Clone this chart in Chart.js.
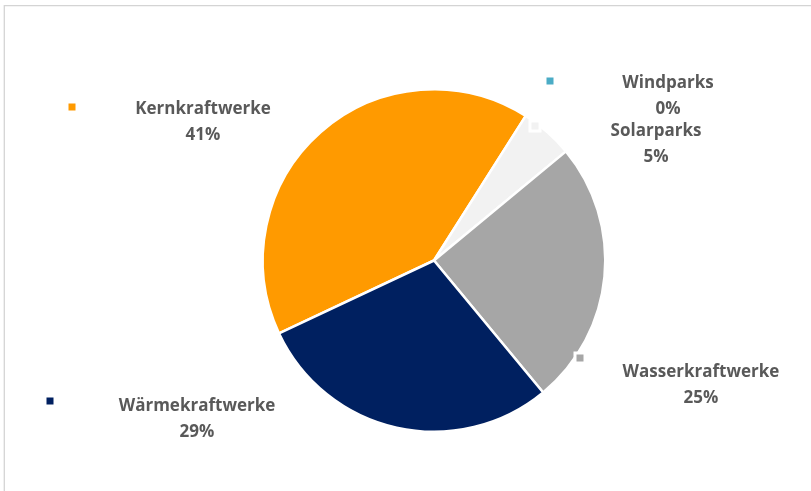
<!DOCTYPE html>
<html>
<head>
<meta charset="utf-8">
<script src="https://cdn.jsdelivr.net/npm/chart.js@4.4.1/dist/chart.umd.min.js"></script>
<style>
  html, body { margin: 0; padding: 0; background: #ffffff; }
  #c { display: block; }
</style>
</head>
<body>
<canvas id="c" width="811" height="491"></canvas>
<script>
// ---- Data ----
const categories = ["Kernkraftwerke", "Windparks", "Solarparks", "Wasserkraftwerke", "Wärmekraftwerke"];
const shares = [41, 0, 5, 25, 29];
const percentLabels = ["41%", "0%", "5%", "25%", "29%"];
const sliceColors = ["#FF9A00", "#4BACC6", "#F2F2F2", "#A6A6A6", "#002060"];

// ---- Label layout (text centre x, title baseline y, marker centre) ----
const labelLayout = [
  { tx: 203, ty: 114, mx: 72,  my: 107 },
  { tx: 668, ty: 88,  mx: 550, my: 81 },
  { tx: 656, ty: 136, mx: 535, my: 126 },
  { tx: 701, ty: 377, mx: 580, my: 358 },
  { tx: 197, ty: 411, mx: 50,  my: 401 }
];

const framePlugin = {
  id: 'frame',
  beforeDraw(chart) {
    const ctx = chart.ctx;
    ctx.save();
    ctx.fillStyle = '#ffffff';
    ctx.fillRect(0, 0, chart.width, chart.height);
    ctx.strokeStyle = '#d4d4d4';
    ctx.lineWidth = 1.3;
    ctx.beginPath();
    ctx.moveTo(4.3, chart.height);
    ctx.lineTo(4.3, 5.6);
    ctx.lineTo(chart.width, 5.6);
    ctx.stroke();
    ctx.restore();
  }
};

const labelPlugin = {
  id: 'sliceLabels',
  afterDraw(chart) {
    const ctx = chart.ctx;
    const ds = chart.data.datasets[0];
    ctx.save();
    ctx.textAlign = 'center';
    ctx.textBaseline = 'alphabetic';
    ctx.font = 'bold 17px "Open Sans"';
    chart.data.labels.forEach((lab, i) => {
      const L = labelLayout[i];
      // marker
      ctx.fillStyle = '#ffffff';
      ctx.fillRect(L.mx - 6.5, L.my - 6.5, 13, 13);
      ctx.fillStyle = ds.backgroundColor[i];
      ctx.fillRect(L.mx - 3.5, L.my - 3.5, 7, 7);
      // text
      ctx.fillStyle = '#595959';
      ctx.fillText(lab, L.tx, L.ty);
      ctx.fillText(percentLabels[i], L.tx, L.ty + 25.5);
    });
    ctx.restore();
  }
};

new Chart(document.getElementById('c'), {
  type: 'pie',
  data: {
    labels: categories,
    datasets: [{
      data: shares,
      backgroundColor: sliceColors,
      borderColor: '#ffffff',
      borderWidth: 2.5
    }]
  },
  options: {
    responsive: false,
    animation: false,
    rotation: 244.8,
    layout: { padding: { top: 88, bottom: 58, left: 261, right: 204 } },
    plugins: {
      legend: { display: false },
      tooltip: { enabled: false },
      title: { display: false }
    }
  },
  plugins: [framePlugin, labelPlugin]
});
</script>
</body>
</html>
